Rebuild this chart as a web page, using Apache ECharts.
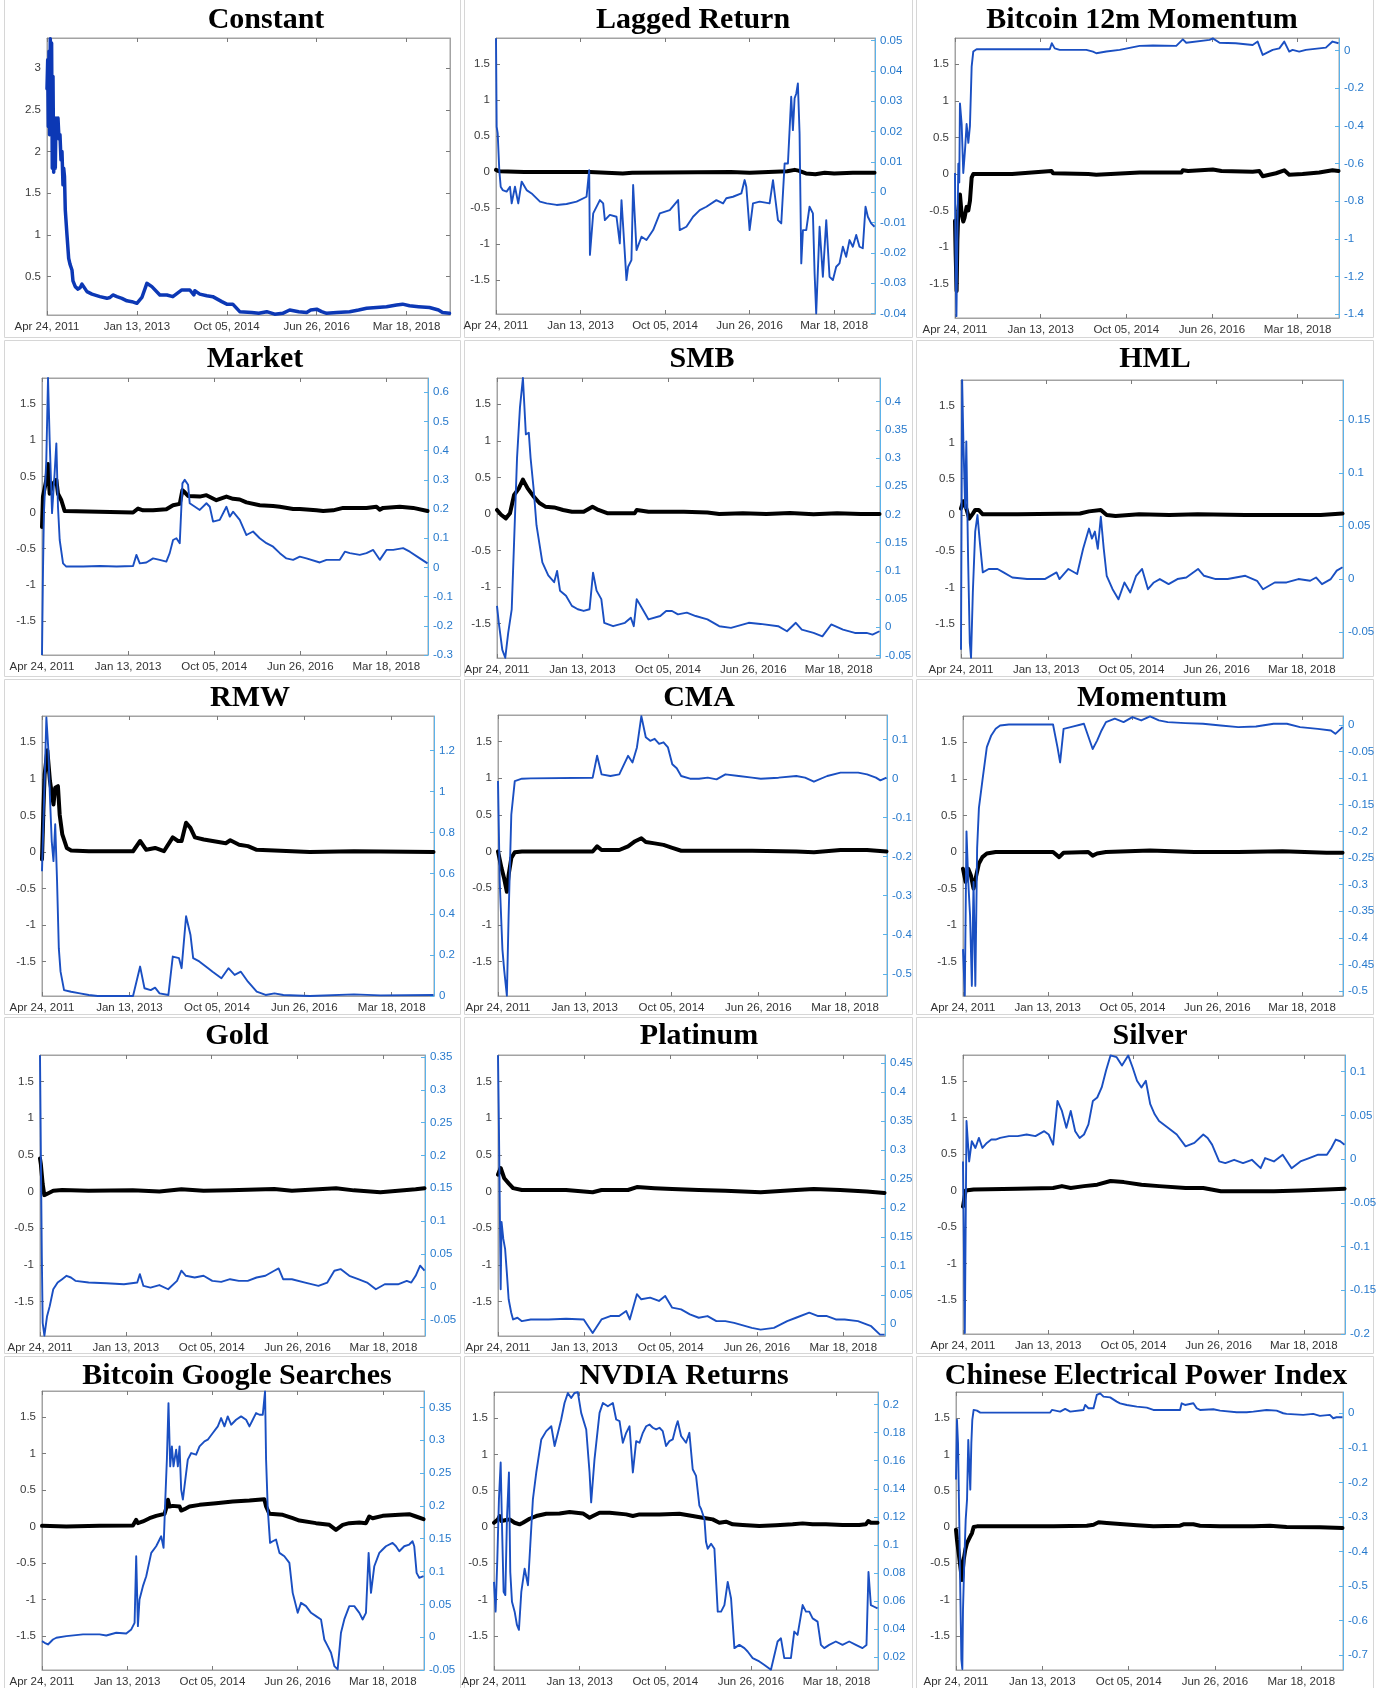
<!DOCTYPE html>
<html>
<head>
<meta charset="utf-8">
<script src="https://cdn.jsdelivr.net/npm/echarts@6/dist/echarts.min.js"></script>
<style>
  html, body { margin: 0; padding: 0; background: #fff; }
  #chart { width: 1381px; height: 1688px; }
</style>
</head>
<body>
<div id="chart"></div>
<script>
// Time axis is counted in weeks from Apr 24, 2011; labelled dates are 90 weeks apart.
const xTickWeeks = [0, 90, 180, 270, 360];
const xTickLabels = ['Apr 24, 2011', 'Jan 13, 2013', 'Oct 05, 2014', 'Jun 26, 2016', 'Mar 18, 2018'];
const xMaxWeek = 403.5;

const titles = ['Constant', 'Lagged Return', 'Bitcoin 12m Momentum', 'Market', 'SMB', 'HML',
  'RMW', 'CMA', 'Momentum', 'Gold', 'Platinum', 'Silver',
  'Bitcoin Google Searches', 'NVDIA Returns', 'Chinese Electrical Power Index'];

// Left (coefficient) axis shared by every two-line panel
const coefRange = [-1.97, 1.86];
const coefTicks = [-1.5, -1, -0.5, 0, 0.5, 1, 1.5];

// Constant term
const constantRange = [0.04, 3.36];
const constantTicks = [0.5, 1, 1.5, 2, 2.5, 3];
const constantCoef = [[0,2.75],[0.7,3.1],[1.3,2.3],[2,3.2],[2.6,2.2],[3.3,3.35],[4,2.5],[4.6,3.3],[5.3,1.8],[6,2.9],[6.7,1.75],[7.5,2.3],[8.3,1.8],[9,2.4],[10,2.3],[11,2.4],[12,2.15],[13,2.2],[14,1.9],[15,2.0],[16,1.6],[16.7,1.8],[17.5,1.7],[18.3,1.3],[20,1.0],[21.7,0.72],[23,0.65],[25,0.58],[26,0.45],[28.3,0.38],[31,0.35],[33.3,0.37],[35,0.41],[36.7,0.38],[40,0.32],[45,0.29],[53,0.26],[60,0.24],[63,0.25],[66,0.28],[70,0.26],[75,0.24],[80,0.21],[85,0.2],[90,0.18],[95,0.25],[100,0.42],[105,0.38],[113,0.28],[120,0.28],[126,0.26],[135,0.34],[143,0.34],[147,0.28],[148,0.33],[153,0.29],[160,0.27],[166,0.26],[175,0.2],[180,0.17],[186,0.17],[193,0.08],[205,0.07],[212,0.06],[220,0.08],[228,0.05],[236,0.06],[243,0.1],[252,0.08],[260,0.07],[264,0.1],[270,0.11],[275,0.08],[280,0.06],[290,0.07],[303,0.08],[312,0.1],[320,0.12],[330,0.13],[340,0.14],[350,0.16],[356,0.17],[363,0.15],[372,0.14],[383,0.13],[392,0.1],[396,0.07],[403,0.06]];

// Lagged return
const laggedTicks = [-0.04, -0.03, -0.02, -0.01, 0, 0.01, 0.02, 0.03, 0.04, 0.05];
const laggedCoef = [[0,0.03],[4,0.01],[30,0.0],[100,0.0],[135,-0.02],[145,-0.01],[250,0.0],[270,-0.01],[290,0.0],[310,0.01],[318,0.03],[322,0.02],[330,-0.02],[340,-0.03],[350,-0.01],[360,-0.02],[380,-0.01],[403,-0.01]];
const laggedLoad = [[0,0.0508],[0.7,0.0216],[1.8,0.0194],[3.5,0.0073],[5,0.0018],[7.1,0.0007],[11.3,0.0002],[14.9,0.0018],[16.7,-0.0037],[20.2,0.0018],[23.7,-0.0037],[27.3,0.0035],[32.6,0.0007],[37.9,-0.0004],[46.8,-0.0031],[53.9,-0.0037],[64.5,-0.0042],[75.1,-0.0039],[85.8,-0.0031],[96.4,-0.0015],[99.2,0.0073],[100,-0.0207],[103.5,-0.007],[110.6,-0.0026],[114.1,-0.0037],[115.9,-0.0092],[121.2,-0.0075],[128.3,-0.0081],[131.8,-0.0169],[133.6,-0.0026],[135.4,-0.0114],[138.9,-0.029],[140.7,-0.0246],[144.2,-0.0224],[146,0.0024],[149.6,-0.0191],[154.9,-0.0147],[160.2,-0.0158],[167.3,-0.0125],[174.4,-0.007],[185,-0.0059],[193.9,-0.0026],[195.6,-0.0125],[202.7,-0.0114],[209.8,-0.0081],[216.9,-0.0059],[224,-0.0048],[234.6,-0.0026],[241.7,-0.0037],[245.2,-0.002],[252.3,-0.0015],[261.2,-0.0004],[264.7,0.004],[266.5,0.0018],[270,-0.0125],[273.6,-0.0037],[280.7,-0.0031],[291.3,-0.0037],[294.9,0.004],[300.2,-0.0092],[303.7,-0.0103],[307.3,0.0095],[310.8,0.0095],[314.3,0.0315],[316.1,0.0205],[317.9,0.031],[319.7,0.0326],[321.4,0.0359],[323.2,0.0194],[325,-0.0235],[326.8,-0.0125],[330.3,-0.0125],[333.8,-0.0048],[337.4,-0.007],[339.2,-0.0268],[340.9,-0.04],[344.5,-0.0114],[348,-0.0279],[351.6,-0.0092],[355.1,-0.0279],[358.7,-0.029],[362.2,-0.0246],[365.7,-0.0235],[369.3,-0.018],[372.8,-0.0213],[376.4,-0.0158],[379.9,-0.018],[383.5,-0.0141],[387,-0.018],[390.5,-0.0185],[393.4,-0.0048],[395.9,-0.0081],[399.4,-0.0103],[403,-0.0114]];

// Bitcoin 12m momentum
const btcMomTicks = [-1.4, -1.2, -1, -0.8, -0.6, -0.4, -0.2, 0];
const btcMomCoef = [[0,-0.64],[0.7,-1.1],[1.7,-1.6],[2.5,-0.9],[3.5,-0.5],[5.2,-0.28],[7,-0.55],[8.7,-0.65],[10,-0.6],[12.2,-0.45],[14,-0.5],[15.7,-0.37],[17.5,-0.05],[19.2,0.0],[60,0.0],[101.4,0.04],[103.1,0.01],[140,0.0],[148.5,-0.01],[194,0.02],[238,0.02],[239.4,0.05],[245,0.04],[270.9,0.06],[280,0.04],[312.8,0.03],[319.8,0.04],[323.3,-0.03],[337.3,0.01],[346,0.05],[351.2,-0.01],[365.2,0.0],[382.7,0.02],[396.7,0.05],[403,0.04]];
const btcMomLoad = [[0,-0.65],[0.7,-1.2],[1.5,-1.41],[2.5,-1.0],[3.5,-0.6],[4.5,-0.7],[5.2,-0.28],[7,-0.39],[8.7,-0.65],[10.5,-0.53],[12.2,-0.39],[14,-0.49],[15.7,-0.4],[17.5,-0.085],[19.2,-0.005],[22.7,0.007],[33,0.007],[99.6,0.007],[101.7,0.039],[104.8,0.012],[110,0.004],[138,0.004],[145,-0.005],[148.5,-0.014],[159,-0.005],[173,0.004],[194,0.025],[208,0.027],[232.5,0.025],[239.4,0.06],[243,0.042],[267.5,0.057],[270.9,0.065],[278,0.042],[295,0.039],[312.8,0.030],[318,0.048],[323.3,-0.023],[333.8,0.004],[340.8,0.012],[346,0.048],[351.2,-0.005],[354.7,0.004],[361.7,-0.005],[368.7,0.004],[382.7,0.012],[389.7,0.016],[396.7,0.048],[403,0.039]];

// Market
const marketTicks = [-0.3, -0.2, -0.1, 0, 0.1, 0.2, 0.3, 0.4, 0.5, 0.6];
const marketCoef = [[0,-0.2],[1,0.22],[2.8,0.2],[4.5,0.45],[6.3,0.67],[8,0.26],[11.5,0.4],[15,0.45],[16.7,0.26],[20.2,0.17],[23.7,0.02],[25.4,0.0],[95.2,0.0],[100.4,0.055],[105.6,0.03],[116.1,0.03],[130,0.045],[137,0.1],[144,0.12],[146.8,0.31],[149.2,0.28],[152.7,0.23],[164.9,0.22],[171.9,0.24],[182.3,0.17],[192.8,0.22],[199.7,0.19],[206.7,0.18],[213.7,0.14],[227.6,0.1],[241.6,0.09],[248.6,0.08],[262.5,0.05],[269.5,0.05],[286.9,0.03],[293.9,0.02],[304.3,0.03],[314.8,0.064],[339.2,0.064],[349.6,0.08],[353.1,0.04],[356.6,0.064],[374,0.08],[388,0.064],[403,0.02]];
const marketLoad = [[0,-0.3],[1,-0.02],[2,0.186],[4.5,0.368],[6.3,0.649],[8,0.437],[10.5,0.186],[13.2,0.323],[15,0.425],[16.7,0.208],[18.5,0.094],[22,0.014],[25.4,0.003],[43,0.003],[60.6,0.005],[78,0.003],[95.2,0.005],[98.7,0.043],[102.2,0.014],[109.1,0.017],[116.1,0.031],[123,0.026],[130,0.02],[133.5,0.049],[137,0.094],[140.5,0.1],[144,0.083],[146.8,0.288],[149.2,0.3],[152.7,0.283],[154.4,0.22],[164.9,0.197],[171.9,0.22],[175.4,0.208],[178.8,0.157],[185.8,0.163],[192.8,0.208],[196.3,0.174],[199.7,0.191],[206.7,0.163],[213.7,0.111],[220.6,0.123],[227.6,0.1],[234.6,0.083],[241.6,0.071],[248.6,0.049],[255.5,0.031],[262.5,0.026],[269.5,0.037],[276.4,0.031],[290.4,0.017],[297.4,0.026],[311.3,0.026],[316.6,0.054],[321.8,0.049],[332.2,0.043],[339.2,0.049],[346.2,0.06],[353.1,0.026],[360.1,0.06],[367.1,0.06],[377.5,0.066],[384.5,0.054],[395,0.031],[403,0.014]];

// SMB
const smbTicks = [-0.05, 0, 0.05, 0.1, 0.15, 0.2, 0.25, 0.3, 0.35, 0.4];
const smbCoef = [[0,0.055],[4.3,-0.01],[9.3,-0.06],[13.7,0.01],[18,0.26],[23,0.35],[27.3,0.47],[32.3,0.35],[38.5,0.24],[44.7,0.15],[50.9,0.1],[60.2,0.09],[69.6,0.055],[78.9,0.03],[91.3,0.03],[100.6,0.1],[106.8,0.055],[116.1,0.01],[134.8,0.01],[145,0.01],[147.2,0.055],[159.6,0.03],[178.2,0.03],[196.9,0.03],[221.7,0.02],[234.1,0.0],[259,0.01],[283.8,0.0],[308.6,0.015],[333.5,-0.005],[358.3,0.01],[383.2,0.0],[403,0.0]];
const smbLoad = [[0,0.038],[1.9,0.008],[5.6,-0.04],[8.7,-0.054],[11.8,-0.01],[15.5,0.032],[18,0.151],[21.1,0.3],[24.2,0.39],[27.3,0.442],[30.4,0.342],[33.5,0.345],[35.4,0.3],[38.5,0.247],[41.6,0.181],[47.8,0.115],[54,0.092],[60.2,0.08],[63.3,0.1],[66.4,0.065],[72.7,0.056],[78.9,0.038],[85.1,0.032],[91.3,0.029],[97.5,0.032],[101.2,0.097],[104.9,0.065],[109.9,0.05],[113,0.008],[122.3,0.002],[134.8,0.008],[141,0.017],[144.1,0.002],[147.2,0.05],[153.4,0.032],[159.6,0.014],[172,0.02],[178.2,0.029],[184.4,0.029],[190.6,0.023],[200,0.026],[209.3,0.02],[221.7,0.014],[234.1,0.002],[246.5,-0.001],[265.2,0.008],[277.6,0.006],[296.2,0.002],[305.5,-0.007],[314.8,0.008],[321.1,-0.004],[333.5,-0.01],[342.8,-0.016],[352.1,0.005],[364.5,-0.004],[377,-0.01],[389.4,-0.01],[395.6,-0.013],[403,-0.007]];

// HML
const hmlTicks = [-0.05, 0, 0.05, 0.1, 0.15];
const hmlCoef = [[0,0.09],[2.5,0.19],[5.6,0.09],[8.7,-0.05],[12.5,0.02],[15,0.07],[18.7,0.07],[23,0.01],[60,0.01],[125.8,0.02],[135.2,0.05],[147.7,0.07],[153.9,0.0],[163.2,-0.015],[188.1,0.01],[220,0.0],[250,0.01],[300,0.0],[350,0.0],[380,0.0],[403,0.02]];
const hmlLoad = [[0,-0.0665],[1.2,0.1875],[2.5,0.130],[4.4,0.067],[5.6,0.130],[7.5,0.019],[9.3,-0.060],[10.6,-0.074],[12.5,-0.0125],[15,0.045],[17.4,0.0605],[19.9,0.035],[23,0.0065],[29.3,0.0097],[38.6,0.0097],[44.9,0.0065],[54.2,0.0017],[69.8,0.0002],[88.5,0.0002],[100.9,0.0065],[104,0.0002],[113.4,0.0097],[122.7,0.005],[129,0.0287],[135.2,0.0478],[138.3,0.0383],[141.4,0.045],[144.5,0.0287],[147.7,0.0589],[150.8,0.0287],[153.9,0.0033],[160.1,-0.0094],[166.3,-0.0189],[172.6,-0.003],[178.8,-0.0125],[185,0.0033],[191.3,0.0097],[197.5,-0.0094],[203.7,-0.003],[210,0.0002],[219.3,-0.0046],[228.6,0.0002],[238,0.0017],[250.4,0.0097],[256.7,0.0033],[269.1,0.0002],[281.6,0.0002],[300.3,0.0033],[312.7,-0.0014],[319,-0.0094],[331.4,-0.003],[343.9,-0.003],[356.4,0.0002],[368.8,-0.0014],[375,0.0017],[381.3,-0.0046],[390.6,0.0002],[396.9,0.0081],[403,0.0113]];

// RMW
const rmwTicks = [0, 0.2, 0.4, 0.6, 0.8, 1, 1.2];
const rmwCoef = [[0,-0.1],[1.5,0.6],[2.7,1.06],[5.5,1.39],[8.2,0.97],[11.8,0.65],[13.6,0.88],[16.4,0.9],[18.2,0.51],[20.9,0.24],[25.5,0.055],[30,0.02],[48.2,0.01],[93.7,0.01],[101,0.15],[107.3,0.03],[116.4,0.055],[125.5,0.01],[134.6,0.2],[140,0.15],[143.7,0.15],[148.3,0.4],[152.8,0.33],[157.4,0.2],[166.5,0.17],[175.6,0.15],[189.2,0.12],[193.8,0.16],[202.9,0.1],[212,0.08],[221,0.03],[239.3,0.02],[275.6,0.0],[321.1,0.01],[403,0.0]];
const rmwLoad = [[0,0.61],[2.7,1.052],[4.5,1.363],[6.4,1.216],[8.2,0.97],[10,0.758],[11.8,0.66],[13.6,0.84],[15.5,0.561],[17.3,0.234],[19.1,0.119],[22.7,0.029],[30,0.021],[39.1,0.013],[48.2,0.005],[57.3,0],[93.7,0],[101,0.144],[105.5,0.038],[111.9,0.029],[116.4,0.041],[121,0.013],[130.1,0.005],[134.6,0.193],[141,0.185],[143.7,0.136],[148.3,0.39],[152.8,0.3],[155.6,0.185],[161.9,0.169],[171,0.136],[175.6,0.119],[184.7,0.087],[191.9,0.136],[198.3,0.103],[204.7,0.119],[212,0.07],[221,0.021],[230.2,0.005],[239.3,0.013],[248.4,0.005],[275.6,0],[321.1,0.008],[348.4,0.003],[403,0.005]];

// CMA
const cmaTicks = [-0.5, -0.4, -0.3, -0.2, -0.1, 0, 0.1];
const cmaCoef = [[0,0.0],[3.7,-0.23],[6.4,-0.37],[9.2,-0.55],[11,-0.32],[13.8,-0.09],[17.4,-0.01],[24.8,0.0],[98.2,0.0],[102.8,0.07],[107.4,0.02],[125.8,0.02],[134.9,0.07],[142.3,0.14],[148.7,0.18],[153.3,0.13],[162.5,0.11],[171.7,0.09],[180.8,0.05],[190,0.01],[217.6,0.01],[263.5,0.01],[309.4,0.0],[327.7,-0.01],[355.3,0.02],[382.8,0.02],[403,0.0]];
const cmaLoad = [[0,-0.0062],[1.8,-0.265],[4.6,-0.438],[6.4,-0.49],[9.2,-0.556],[11,-0.352],[13.8,-0.0926],[17.4,-0.0062],[24.8,-0.0002],[34,0.0007],[98.2,0.0024],[102.8,0.0585],[107.4,0.011],[116.6,0.0067],[125.8,0.011],[134.9,0.0585],[139.5,0.0413],[144.1,0.08],[148.7,0.16],[153.3,0.106],[157.9,0.097],[162.5,0.102],[167.1,0.089],[171.7,0.093],[176.3,0.08],[180.8,0.037],[185.4,0.0266],[190,0.0067],[199.2,-0.0002],[208.4,-0.0002],[217.6,0.0024],[226.7,-0.002],[235.9,0.011],[249.7,0.0067],[263.5,0.0024],[272.6,-0.0002],[291,0.0024],[309.4,0.0067],[318.5,0.0024],[327.7,-0.008],[341.5,0.0067],[355.3,0.0154],[373.6,0.0154],[382.8,0.011],[392,0.0024],[396.6,-0.0045],[403,0.0024]];

// Momentum
const momTicks = [-0.5, -0.45, -0.4, -0.35, -0.3, -0.25, -0.2, -0.15, -0.1, -0.05, 0];
const momCoef = [[0,-0.23],[2.8,-0.41],[5.6,-0.23],[8.4,-0.32],[11.2,-0.5],[14.1,-0.32],[16.9,-0.16],[20.6,-0.07],[25.3,-0.02],[34.7,0.0],[95.6,0.0],[102.1,-0.07],[106.8,-0.01],[133,0.0],[137.7,-0.05],[142.4,-0.02],[151.8,0.0],[198.6,0.02],[245.5,0.0],[292.3,0.0],[339.2,0.01],[386,-0.01],[403,-0.01]];
const momLoad = [[0,-0.421],[1.9,-0.508],[3.7,-0.2],[5.6,-0.295],[7.5,-0.358],[9.4,-0.49],[11.2,-0.295],[13.1,-0.49],[15,-0.232],[16.9,-0.156],[20.6,-0.105],[25.3,-0.042],[30,-0.02],[34.7,-0.0076],[39.4,-0.0013],[48.7,0.0006],[95.6,0.0006],[100.3,-0.042],[103.1,-0.0707],[106.8,-0.0076],[114.3,-0.0044],[128.4,0.0019],[137.7,-0.0455],[142.4,-0.0297],[147.1,-0.0107],[151.8,0.005],[161.2,0.0114],[170.5,0.005],[179.9,0.0145],[189.3,0.0082],[198.6,0.0158],[208,0.0082],[217.4,0.005],[236.1,0.0032],[254.9,0.0019],[273.6,-0.0013],[292.3,-0.0044],[311.1,-0.0032],[329.8,0.0019],[343.9,0.0019],[357.9,-0.0044],[376.7,-0.0076],[390.7,-0.0107],[395.4,-0.017],[403,-0.0044]];

// Gold
const goldTicks = [-0.05, 0, 0.05, 0.1, 0.15, 0.2, 0.25, 0.3, 0.35];
const goldCoef = [[0,0.45],[0.9,0.37],[2.8,0.1],[4.5,-0.05],[6.5,-0.07],[9.3,-0.02],[13.9,0.01],[23.2,0.02],[51,0.01],[97.3,0.015],[125.1,0.0],[148.2,0.03],[171.4,0.01],[199.2,0.015],[245.5,0.035],[264,0.01],[310.3,0.045],[328.9,0.015],[356.7,-0.01],[384.4,0.02],[393.7,0.03],[403,0.045]];
const goldLoad = [[0,0.3526],[0.9,0.2013],[1.9,0.0474],[2.8,-0.055],[4.6,-0.0745],[7.4,-0.0449],[10.2,-0.0295],[13.9,-0.0038],[18.5,0.0064],[23.2,0.0115],[27.8,0.0167],[32.4,0.0141],[37.1,0.009],[51,0.0064],[69.5,0.0054],[88,0.0038],[101.9,0.0064],[104.7,0.0192],[108.4,0.0013],[115.8,-0.0013],[125.1,0.0026],[134.3,-0.0038],[143.6,0.009],[148.2,0.0244],[152.9,0.0167],[162.1,0.0141],[171.4,0.0167],[180.6,0.009],[189.9,0.0074],[199.2,0.0115],[208.4,0.009],[217.7,0.009],[227,0.0141],[236.2,0.0167],[245.5,0.0244],[250.1,0.0279],[254.8,0.0115],[264,0.0115],[277.9,0.0064],[291.8,0.0013],[301.1,0.0064],[308.5,0.0244],[315,0.0269],[324.2,0.0167],[333.5,0.0115],[342.8,0.0064],[352,-0.0038],[361.3,0.0038],[375.2,0.0038],[384.4,0.009],[389.1,0.0064],[393.7,0.0167],[398.4,0.0321],[403,0.0244]];

// Platinum
const platTicks = [0, 0.05, 0.1, 0.15, 0.2, 0.25, 0.3, 0.35, 0.4, 0.45];
const platCoef = [[0,0.23],[2.8,0.32],[6.5,0.18],[11.1,0.11],[15.7,0.045],[24.9,0.02],[71,0.02],[98.7,-0.01],[107.9,0.02],[135.5,0.02],[144.8,0.06],[163.2,0.045],[181.6,0.035],[209.3,0.02],[237,0.01],[273.8,-0.01],[310.7,0.02],[329.2,0.035],[356.8,0.02],[384.5,0.0],[403,-0.02]];
const platLoad = [[0,0.4635],[0.9,0.35],[2.8,0.0598],[3.7,0.176],[5.5,0.147],[7.4,0.1295],[9.2,0.0888],[11.1,0.0424],[13.8,0.0192],[15.7,0.0075],[20.3,0.0105],[24.9,0.0046],[34.1,0.0075],[52.6,0.0075],[71,0.0087],[89.4,0.0075],[98.7,-0.0157],[107.9,0.0075],[117.1,0.0134],[126.3,0.0134],[133.7,0.0221],[137.4,0.0075],[144.8,0.0511],[149.4,0.0424],[158.6,0.0453],[167.8,0.0395],[174.3,0.0482],[181.6,0.0279],[190.9,0.025],[200.1,0.0163],[209.3,0.0105],[218.5,0.0134],[227.7,0.0046],[237,0.0046],[246.2,0.0017],[264.6,-0.007],[273.8,-0.0099],[287.7,-0.007],[301.5,0.0046],[310.7,0.0105],[324.5,0.0192],[333.8,0.0134],[343,0.0134],[352.2,0.0075],[361.4,0.0075],[375.3,0.0046],[389.1,-0.0041],[398.3,-0.0186],[403,-0.0186]];

// Silver
const silverTicks = [-0.2, -0.15, -0.1, -0.05, 0, 0.05, 0.1];
const silverCoef = [[0,-0.22],[2.8,0.0],[11.2,0.015],[57.8,0.025],[95.2,0.035],[104.5,0.06],[113.8,0.035],[127.8,0.06],[141.8,0.08],[155.8,0.13],[169.8,0.115],[188.5,0.08],[207.1,0.06],[235.1,0.035],[253.8,0.035],[272.4,-0.01],[291.1,-0.01],[328.4,-0.01],[356.4,0.0],[384.4,0.015],[403,0.025]];
const silverLoad = [[0,-0.0027],[1.9,-0.1988],[3.7,0.0435],[6.5,-0.0027],[9.3,0.0204],[13.1,0.0127],[16.8,0.0242],[20.5,0.0127],[25.2,0.0185],[29.9,0.0223],[34.5,0.0223],[39.2,0.0242],[48.5,0.0262],[57.8,0.0262],[67.2,0.0281],[76.5,0.0262],[85.8,0.0319],[90.5,0.0281],[95.2,0.0165],[99.8,0.0665],[104.5,0.055],[109.2,0.0358],[113.8,0.055],[118.5,0.0319],[123.2,0.0242],[127.8,0.0281],[132.5,0.0396],[137.2,0.0665],[141.8,0.0704],[146.5,0.0819],[151.1,0.1012],[155.8,0.1185],[162.3,0.1165],[167.9,0.1069],[174.5,0.1185],[179.1,0.105],[183.8,0.0896],[188.5,0.0819],[193.1,0.0896],[197.8,0.0627],[202.5,0.0512],[207.1,0.0435],[216.5,0.0358],[225.8,0.0281],[235.1,0.0146],[244.4,0.0185],[253.8,0.0281],[258.4,0.0242],[263.1,0.0165],[270.6,-0.0027],[277.1,-0.0046],[286.4,-0.0008],[295.8,-0.0046],[305.1,-0.0008],[314.4,-0.0104],[319.1,0.0012],[328.4,-0.0027],[337.7,0.005],[347.1,-0.0104],[356.4,-0.0027],[365.7,0.0012],[375.1,0.005],[384.4,0.005],[389.1,0.0127],[393.7,0.0223],[398.4,0.0204],[403,0.0165]];

// Bitcoin Google searches
const googleTicks = [-0.05, 0, 0.05, 0.1, 0.15, 0.2, 0.25, 0.3, 0.35];
const googleCoef = [[0,0.009],[25.7,0.0],[60.8,0.009],[96,0.014],[99.5,0.091],[101.3,0.046],[106.6,0.069],[113.6,0.114],[120.6,0.146],[129.4,0.174],[131.2,0.251],[133,0.366],[134.7,0.274],[138.2,0.283],[145.3,0.274],[147,0.219],[150.5,0.238],[155.8,0.274],[166.4,0.297],[183.9,0.32],[201.5,0.343],[219.1,0.357],[234.9,0.375],[236.7,0.274],[240.2,0.174],[254.3,0.16],[264.8,0.114],[271.9,0.082],[289.4,0.046],[303.5,0.023],[310.5,-0.046],[317.6,0.023],[324.6,0.046],[335.2,0.055],[342.2,0.046],[345.7,0.137],[349.2,0.114],[359.8,0.146],[377.4,0.16],[387.9,0.169],[395,0.137],[403,0.1]];
const googleLoad = [[0,-0.006],[2.8,-0.0086],[6.3,-0.0111],[11.6,-0.0035],[15.1,-0.0009],[25.7,0.0016],[43.3,0.0042],[60.8,0.0042],[67.9,0.0026],[78.4,0.0067],[89,0.0057],[94.3,0.0118],[97.8,0.0219],[99.5,0.1233],[101.3,0.0168],[103,0.0574],[106.6,0.0777],[110.1,0.0929],[115.4,0.1284],[120.6,0.1385],[125.9,0.1537],[128.4,0.136],[130.1,0.2045],[131.9,0.2704],[133.6,0.3566],[135.4,0.2602],[137.2,0.2907],[138.9,0.2602],[141.7,0.2856],[143.5,0.2602],[145.3,0.2907],[147,0.2247],[148.8,0.2095],[150.5,0.2298],[154,0.2704],[157.6,0.2805],[162.8,0.278],[166.4,0.2907],[171.6,0.2983],[175.1,0.3008],[180.4,0.311],[185.7,0.3211],[189.2,0.3338],[192.7,0.3211],[196.2,0.3363],[199.8,0.3236],[205,0.3312],[210.3,0.3363],[215.6,0.3312],[219.1,0.3211],[222.6,0.3312],[226.1,0.3414],[229.7,0.3388],[233.2,0.3388],[235.6,0.3743],[236.7,0.2704],[238.5,0.1943],[240.9,0.1436],[243.7,0.1461],[247.2,0.1487],[250.8,0.1284],[256,0.1233],[261.3,0.1132],[264.8,0.0675],[266.6,0.0574],[270.1,0.0371],[273.6,0.0523],[278.9,0.0473],[284.2,0.0371],[289.4,0.0321],[294.7,0.027],[298.2,-0.0035],[301.8,-0.0136],[305.3,-0.0237],[308.8,-0.044],[312.3,-0.0491],[315.8,0.0067],[319.3,0.027],[324.6,0.0473],[329.9,0.0473],[335.2,0.0371],[338.7,0.027],[342.2,0.0371],[345,0.1284],[347.5,0.0675],[351,0.1081],[356.3,0.1284],[359.8,0.1335],[363.3,0.1385],[370.3,0.1436],[373.9,0.1385],[377.4,0.1309],[382.6,0.1385],[387.9,0.1411],[391.4,0.1461],[393.2,0.1385],[395.7,0.098],[398.5,0.0904],[403,0.093]];

// NVDIA returns
const nvdaTicks = [0.02, 0.04, 0.06, 0.08, 0.1, 0.12, 0.14, 0.16, 0.18, 0.2];
const nvdaCoef = [[0,0.059],[4.2,0.105],[5.9,0.151],[7.7,0.082],[12.9,0.096],[16.4,0.105],[21.7,0.059],[26.9,0.037],[30.4,0.059],[37.4,0.114],[44.4,0.151],[54.9,0.183],[68.9,0.187],[79.4,0.206],[93.4,0.187],[100.4,0.128],[103.9,0.151],[110.9,0.197],[121.4,0.197],[138.9,0.174],[145.9,0.151],[152.9,0.174],[173.9,0.174],[194.8,0.183],[208.8,0.151],[219.3,0.128],[229.8,0.105],[236.8,0.059],[243.8,0.073],[250.8,0.037],[261.3,0.027],[278.8,0.014],[296.3,0.023],[313.8,0.037],[324.3,0.05],[334.8,0.037],[348.7,0.037],[366.2,0.027],[383.7,0.027],[390.7,0.037],[393.2,0.082],[396,0.059],[403,0.059]];
const nvdaLoad = [[0,0.0736],[1.7,0.0524],[3.5,0.0901],[5.2,0.1327],[7,0.1587],[8.4,0.1138],[10.1,0.0665],[11.9,0.0642],[13.6,0.1185],[15.7,0.1516],[17.1,0.0807],[18.9,0.0594],[21.7,0.0524],[24.1,0.0429],[26.2,0.0394],[28.7,0.0665],[32.2,0.0831],[35.7,0.0712],[38.1,0.0996],[40.9,0.1327],[44.4,0.1516],[49.7,0.1752],[54.9,0.1811],[60.2,0.1846],[63.7,0.1705],[67.2,0.1799],[70.6,0.1894],[74.1,0.2012],[77.6,0.2083],[81.1,0.2047],[84.6,0.2083],[88.1,0.2088],[91.6,0.1941],[96.9,0.1823],[100.4,0.1516],[102.1,0.1303],[105.6,0.161],[110.9,0.1941],[114.4,0.2012],[119.6,0.1988],[124.9,0.2012],[128.4,0.1894],[131.9,0.1882],[135.4,0.1728],[138.9,0.1799],[142.4,0.1846],[145.9,0.1516],[149.4,0.174],[152.9,0.1728],[156.4,0.1799],[159.9,0.1846],[163.4,0.1858],[166.9,0.1835],[170.4,0.1823],[173.9,0.1835],[177.3,0.1811],[180.8,0.1705],[184.3,0.174],[187.8,0.1752],[191.3,0.1846],[193.1,0.1882],[196.6,0.1776],[201.8,0.1728],[205.3,0.1799],[208.8,0.1539],[212.3,0.1492],[215.8,0.128],[217.6,0.1256],[221.1,0.1185],[222.8,0.102],[224.6,0.0972],[228.1,0.1008],[231.6,0.0972],[235.1,0.0524],[238.6,0.0524],[242.1,0.0571],[245.6,0.0736],[249.1,0.0618],[252.6,0.0264],[257.8,0.0287],[263.1,0.0264],[266.5,0.024],[271.8,0.0193],[278.8,0.0169],[283.8,0.0146],[291,0.011],[298,0.0311],[301.5,0.0334],[305,0.0193],[312,0.0193],[315.5,0.0382],[319,0.0358],[324.3,0.0571],[327.8,0.0524],[331.3,0.0524],[334.8,0.0476],[340,0.0453],[343.5,0.0287],[347,0.0264],[352.2,0.0287],[359.2,0.0311],[366.2,0.0287],[373.2,0.0311],[380.2,0.0287],[387.2,0.0264],[391.4,0.0287],[393.5,0.0807],[396,0.0571],[399.5,0.0559],[403,0.0547]];

// Chinese electrical power index
const powerTicks = [-0.7, -0.6, -0.5, -0.4, -0.3, -0.2, -0.1, 0];
const powerCoef = [[0,-0.037],[1,-0.175],[2.8,-0.36],[4.5,-0.545],[6.2,-0.73],[8,-0.452],[9.7,-0.314],[11.5,-0.222],[13.2,-0.175],[14.9,-0.13],[16.7,-0.083],[18.4,0.0],[21.9,0.009],[67,0.009],[101.7,0.009],[136.4,0.018],[143.4,0.032],[148.6,0.065],[157.2,0.055],[171.1,0.042],[188.5,0.023],[205.8,0.009],[233.6,0.018],[237.1,0.037],[247.5,0.037],[254.4,0.018],[275.3,0.009],[310,0.009],[327.3,0.018],[344.7,0.0],[379.4,-0.005],[403,-0.014]];
const powerLoad = [[0,-0.192],[1,-0.019],[2.1,-0.087],[3.5,-0.327],[4.5,-0.519],[5.6,-0.712],[6.6,-0.74],[7.3,-0.567],[8.7,-0.423],[10.1,-0.308],[11.5,-0.25],[12.8,-0.077],[13.9,-0.154],[14.9,-0.221],[16,-0.087],[17,-0.019],[18.4,0.0096],[21.9,0.0077],[25.3,0.0019],[32.3,0.0019],[67,0.0019],[98.2,0.0019],[100,0.0096],[108.6,0.0048],[113.8,0.0125],[119.1,0.0048],[132.9,0.0096],[134.7,0.024],[138.1,0.0144],[143.4,0.0144],[146.8,0.0529],[150.3,0.0577],[153.8,0.048],[160.7,0.046],[167.6,0.0337],[171.1,0.0288],[178.1,0.024],[188.5,0.0192],[198.9,0.0163],[205.8,0.0096],[223.2,0.0096],[233.6,0.0096],[235.3,0.0288],[238.8,0.024],[247.5,0.0288],[251,0.0144],[254.4,0.0096],[268.3,0.0115],[275.3,0.0077],[292.6,0.0029],[303,0.0029],[310,0.0048],[323.8,0.0096],[334.3,0.0077],[341.2,0.0],[344.7,-0.0019],[362,-0.0048],[372.4,-0.0019],[379.4,-0.0077],[389.8,-0.0048],[393.3,-0.0144],[396.7,-0.0115],[403,-0.0115]];

// Panel definitions: coefficient line (left axis) and blue line (right axis)
const panels = [
  { coef: constantCoef, load: null, leftRange: constantRange, leftTicks: constantTicks },
  { coef: laggedCoef, load: laggedLoad, rightRange: [-0.0402, 0.0509], rightTicks: laggedTicks },
  { coef: btcMomCoef, load: btcMomLoad, rightRange: [-1.42, 0.067], rightTicks: btcMomTicks },
  { coef: marketCoef, load: marketLoad, rightRange: [-0.3, 0.649], rightTicks: marketTicks },
  { coef: smbCoef, load: smbLoad, rightRange: [-0.0544, 0.442], rightTicks: smbTicks },
  { coef: hmlCoef, load: hmlLoad, rightRange: [-0.0742, 0.1878], rightTicks: hmlTicks },
  { coef: rmwCoef, load: rmwLoad, rightRange: [0, 1.37], rightTicks: rmwTicks },
  { coef: cmaCoef, load: cmaLoad, rightRange: [-0.557, 0.163], rightTicks: cmaTicks },
  { coef: momCoef, load: momLoad, rightRange: [-0.509, 0.0165], rightTicks: momTicks },
  { coef: goldCoef, load: goldLoad, rightRange: [-0.075, 0.353], rightTicks: goldTicks },
  { coef: platCoef, load: platLoad, rightRange: [-0.021, 0.464], rightTicks: platTicks },
  { coef: silverCoef, load: silverLoad, rightRange: [-0.2, 0.119], rightTicks: silverTicks },
  { coef: googleCoef, load: googleLoad, rightRange: [-0.05, 0.375], rightTicks: googleTicks },
  { coef: nvdaCoef, load: nvdaLoad, rightRange: [0.0108, 0.209], rightTicks: nvdaTicks },
  { coef: powerCoef, load: powerLoad, rightRange: [-0.743, 0.0615], rightTicks: powerTicks }
];

// Plot boxes [left, top, width, height] and title centres [x, y]
const boxes = [
  [47, 38, 403, 277], [496, 38, 379, 276], [955, 38, 384, 280],
  [42, 378, 386, 277], [497, 378, 383, 280], [961, 380, 382, 278],
  [42, 716, 392, 280], [498, 715, 389, 281], [963, 716, 380, 280],
  [40, 1055, 385, 281], [498, 1055, 387, 281], [963, 1055, 382, 279],
  [42, 1391, 382, 279], [494, 1392, 384, 280], [956, 1392, 387, 279]
];
const titlePos = [
  [266, 20], [693, 20], [1142, 20],
  [255, 359], [702, 359], [1155, 359],
  [250, 698], [699, 698], [1152, 698],
  [237, 1036], [699, 1036], [1150, 1036],
  [237, 1376], [684, 1376], [1146, 1376]
];

const SANS = '"Liberation Sans", Arial, sans-serif';
const BOX_GREY = '#a3a3a3';
const RIGHT_AXIS = '#5bb2ea';
const RIGHT_LABEL = '#2679cc';
const LINE_BLUE = '#1a4fc2';
const fmt = v => String(+(+v).toFixed(4));

const option = { animation: false, grid: [], xAxis: [], yAxis: [], series: [], graphic: [] };

panels.forEach((p, i) => {
  const [l, t, w, h] = boxes[i];
  option.grid.push({ left: l, top: t, width: w, height: h, show: true,
    borderColor: BOX_GREY, borderWidth: 1, backgroundColor: '#fff' });

  const xi = option.xAxis.length;
  const xCommon = { type: 'value', gridIndex: i, min: 0, max: xMaxWeek, splitLine: { show: false },
    axisLine: { show: true, onZero: false, lineStyle: { color: BOX_GREY, width: 1 } },
    axisTick: { show: true, inside: true, length: 4, customValues: xTickWeeks, lineStyle: { color: '#7a7a7a' } } };
  option.xAxis.push(Object.assign({}, xCommon, { position: 'bottom',
    axisLabel: { show: true, customValues: xTickWeeks, formatter: v => xTickLabels[Math.round(v / 90)],
      fontFamily: SANS, fontSize: 11.5, color: '#333', margin: 6 } }));
  option.xAxis.push(Object.assign({}, xCommon, { position: 'top', axisLabel: { show: false } }));

  const lr = p.leftRange || coefRange;
  const lt = p.leftTicks || coefTicks;
  const yl = option.yAxis.length;
  option.yAxis.push({ type: 'value', gridIndex: i, position: 'left', min: lr[0], max: lr[1],
    splitLine: { show: false },
    axisLine: { show: true, onZero: false, lineStyle: { color: BOX_GREY } },
    axisTick: { show: true, inside: true, length: 4, customValues: lt, lineStyle: { color: '#7a7a7a' } },
    axisLabel: { show: true, customValues: lt, formatter: fmt, fontFamily: SANS, fontSize: 11.5, color: '#3a3a3a', margin: 6 } });

  const yr = option.yAxis.length;
  if (p.load) {
    option.yAxis.push({ type: 'value', gridIndex: i, position: 'right', min: p.rightRange[0], max: p.rightRange[1],
      splitLine: { show: false },
      axisLine: { show: true, onZero: false, lineStyle: { color: RIGHT_AXIS } },
      axisTick: { show: true, inside: true, length: 4, customValues: p.rightTicks, lineStyle: { color: RIGHT_AXIS } },
      axisLabel: { show: true, customValues: p.rightTicks, formatter: fmt, fontFamily: SANS, fontSize: 11.5, color: RIGHT_LABEL, margin: 5 } });
  } else {
    option.yAxis.push({ type: 'value', gridIndex: i, position: 'right', min: lr[0], max: lr[1],
      splitLine: { show: false },
      axisLine: { show: true, onZero: false, lineStyle: { color: BOX_GREY } },
      axisTick: { show: true, inside: true, length: 4, customValues: lt, lineStyle: { color: '#7a7a7a' } },
      axisLabel: { show: false } });
  }

  if (p.load) {
    option.series.push({ type: 'line', xAxisIndex: xi, yAxisIndex: yl, data: p.coef, showSymbol: false,
      z: 2, lineStyle: { color: '#000', width: 4, join: 'round', cap: 'round' } });
    option.series.push({ type: 'line', xAxisIndex: xi, yAxisIndex: yr, data: p.load, showSymbol: false,
      z: 3, lineStyle: { color: LINE_BLUE, width: 1.9, join: 'round' } });
  } else {
    option.series.push({ type: 'line', xAxisIndex: xi, yAxisIndex: yl, data: p.coef, showSymbol: false,
      z: 2, lineStyle: { color: '#0c38b5', width: 3.5, join: 'round', cap: 'round' } });
  }

  option.graphic.push({ type: 'text', x: titlePos[i][0], y: titlePos[i][1], z: 10,
    style: { text: titles[i], font: 'bold 30px "Liberation Serif", "DejaVu Serif", serif', fill: '#000',
      textAlign: 'center', textVerticalAlign: 'middle', align: 'center', verticalAlign: 'middle' } });
});

// Light frames around each sub-figure
const colEdges = [[4, 460], [464, 912], [916, 1373]];
const rowEdges = [[-2, 337], [340, 676], [679, 1014], [1017, 1353], [1356, 1690]];
rowEdges.forEach(([y0, y1]) => colEdges.forEach(([x0, x1]) => {
  option.graphic.push({ type: 'rect', z: -1, silent: true,
    shape: { x: x0 + 0.5, y: y0 + 0.5, width: x1 - x0, height: y1 - y0 },
    style: { fill: 'none', stroke: '#d6d6d6', lineWidth: 1 } });
}));

const chart = echarts.init(document.getElementById('chart'), null, { renderer: 'canvas' });
chart.setOption(option);
</script>
</body>
</html>
